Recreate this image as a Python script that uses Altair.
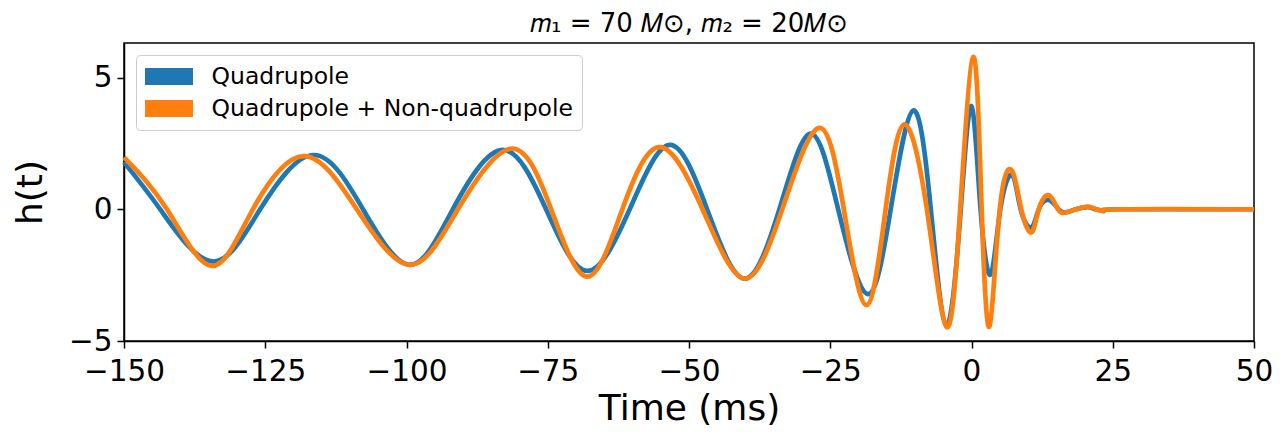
import altair as alt
import pandas as pd

# Quadrupole (blue): extrema and zero crossings
t_quad = [-150, -143.6, -134.4, -125.9, -116.4, -107.7, -99.4, -91.8, -83.0, -75.3,
          -68.0, -60.5, -53.4, -46.8, -40.2, -34.0, -28.5, -23.6, -18.4, -14.3,
          -10.3, -7.2, -4.4, -1.9, 0.0, 1.6, 3.4, 5.1, 7.2, 8.7,
          10.6, 11.9, 13.7, 15.4, 16.6, 18.5, 20.6, 22.0, 23.4, 26.0, 50.0]
h_quad = [1.78, 0, -1.98, 0, 2.06, 0, -2.11, 0, 2.25, 0,
          -2.34, 0, 2.44, 0, -2.63, 0, 2.87, 0, -3.22, 0,
          3.75, 0, -4.39, 0, 3.91, 0, -2.47, 0, 1.30, 0,
          -0.69, 0, 0.35, 0, -0.12, 0, 0.08, 0, -0.06, 0, 0]

# Quadrupole + Non-quadrupole (orange)
t_full = [-150, -142.4, -134.5, -127.2, -118.1, -108.8, -99.4, -90.9, -81.4, -74.4,
          -68.0, -61.8, -55.2, -47.6, -40.2, -33.5, -27.0, -22.6, -18.6, -15.2,
          -11.9, -7.9, -4.4, -2.0, 0.35, 1.8, 3.2, 5.0, 7.2, 8.8,
          10.6, 11.9, 13.7, 15.3, 16.6, 18.5, 20.6, 22.0, 23.4, 26.0, 50.0]
h_full = [1.97, 0, -2.15, 0, 2.02, 0, -2.11, 0, 2.30, 0,
          -2.56, 0, 2.36, 0, -2.63, 0, 3.09, 0, -3.64, 0,
          3.22, 0, -4.47, 0, 5.78, 0, -4.44, 0, 1.45, 0,
          -0.88, 0, 0.53, 0, -0.12, 0, 0.10, 0, -0.07, 0, 0]

series = ["Quadrupole", "Quadrupole + Non-quadrupole"]
colors = ["#1f77b4", "#ff7f0e"]
x_ticks = [-150, -125, -100, -75, -50, -25, 0, 25, 50]
y_ticks = [-5, 0, 5]

df = pd.concat([
    pd.DataFrame({"t": t_quad, "h": h_quad, "series": series[0], "order": 0}),
    pd.DataFrame({"t": t_full, "h": h_full, "series": series[1], "order": 1}),
])

FONT = "DejaVu Sans"

chart = alt.Chart(df).mark_line(
    interpolate="natural", strokeWidth=4.7, strokeJoin="round"
).encode(
    x=alt.X("t:Q", scale=alt.Scale(domain=[-150, 50], nice=False, zero=False),
            axis=alt.Axis(values=x_ticks, title="Time (ms)", format="d")),
    y=alt.Y("h:Q", scale=alt.Scale(domain=[-5, 6.31], nice=False, zero=False),
            axis=alt.Axis(values=y_ticks, title="h(t)", format="d")),
    color=alt.Color("series:N", scale=alt.Scale(domain=series, range=colors),
                    legend=alt.Legend(
                        title=None, orient="none", legendX=12, legendY=12,
                        symbolType="stroke", symbolSize=2304, symbolStrokeWidth=17,
                        symbolOpacity=1, symbolOffset=-8.5,
                        labelFontSize=23.5, labelFont=FONT, labelColor="#000000",
                        labelLimit=0, labelOffset=10, clipHeight=25, rowPadding=7,
                        padding=9, fillColor="#ffffff", strokeColor="#cccccc",
                        cornerRadius=4)),
    order="order:Q",
    detail="series:N",
).properties(
    width=1130, height=298,
    autosize=alt.AutoSizeParams(type="none"),
    padding={"left": 116, "top": 35, "right": 18, "bottom": 86},
    title=alt.TitleParams(text="𝑚₁ = 70 𝑀⊙,  𝑚₂ = 20𝑀⊙", font=FONT, fontSize=26,
                          fontWeight="normal", color="#000000", anchor="middle",
                          offset=6),
).configure_view(
    stroke="#000000", strokeWidth=1.5
).configure_axis(
    grid=False, domainColor="#000000", domainWidth=1.5, tickColor="#000000",
    tickWidth=1.5, tickSize=7, labelFont=FONT, labelFontSize=29.5, labelColor="#000000",
    titleFont=FONT, titleFontSize=36, titleFontWeight="normal", titleColor="#000000",
    labelFlush=False, labelOverlap=False,
).configure_axisX(
    labelPadding=9, titlePadding=6
).configure_axisY(
    labelPadding=5, titlePadding=19
)

chart.save("out.html", embed_options={"renderer": "svg", "actions": False})
